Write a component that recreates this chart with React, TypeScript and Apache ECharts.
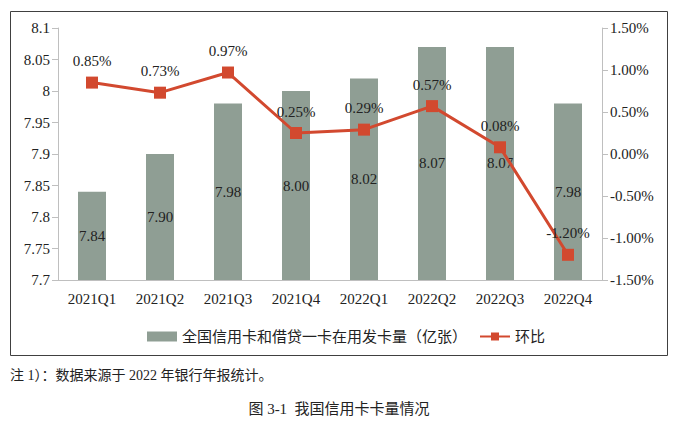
import React, { useEffect, useRef } from "react";
import * as echarts from "echarts";

const categories = ["2021Q1", "2021Q2", "2021Q3", "2021Q4", "2022Q1", "2022Q2", "2022Q3", "2022Q4"];
const cardCounts = [7.84, 7.9, 7.98, 8.0, 8.02, 8.07, 8.07, 7.98];
const qoqPercent = [0.85, 0.73, 0.97, 0.25, 0.29, 0.57, 0.08, -1.2];
const barName = "全国信用卡和借贷一卡在用发卡量（亿张）";
const lineName = "环比";
const noteText = "注 1）：数据来源于 2022 年银行年报统计。";
const captionText = "图 3-1  我国信用卡卡量情况";

const SERIF = '"Liberation Serif", "Noto Sans CJK SC", serif';
const FS = 15;
const AXIS = "#bfbfbf";

export default function App() {
  const ref = useRef<HTMLDivElement>(null);
  useEffect(() => {
    if (!ref.current) return;
    const chart = echarts.init(ref.current, undefined, { renderer: "svg" });
    chart.setOption({
      animation: false,
      backgroundColor: "#ffffff",
      textStyle: { fontFamily: SERIF },
      grid: { left: 58, right: 78, top: 28, bottom: 146 },
      legend: {
        left: 142,
        top: 324,
        itemWidth: 30,
        itemHeight: 10,
        itemGap: 12,
        textStyle: { fontFamily: SERIF, fontSize: 15, color: "#222" },
        data: [{ name: barName, icon: "rect" }, { name: lineName }],
      },
      xAxis: {
        type: "category",
        data: categories,
        axisLine: { onZero: false, lineStyle: { color: AXIS } },
        axisTick: { length: 6, lineStyle: { color: AXIS } },
        axisLabel: { color: "#222", fontSize: FS, margin: 11, fontFamily: SERIF },
        splitLine: { show: false },
      },
      yAxis: [
        {
          type: "value",
          min: 7.7,
          max: 8.1,
          interval: 0.05,
          splitLine: { show: false },
          splitArea: { show: false },
          axisLine: { show: true, lineStyle: { color: AXIS } },
          axisTick: { show: true, length: 6, lineStyle: { color: AXIS } },
          axisLabel: {
            color: "#222",
            fontSize: FS,
            margin: 8,
            fontFamily: SERIF,
            formatter: (v: number) => String(parseFloat(v.toFixed(2))),
          },
        },
        {
          type: "value",
          min: -1.5,
          max: 1.5,
          interval: 0.5,
          splitLine: { show: false },
          splitArea: { show: false },
          axisLine: { show: true, lineStyle: { color: AXIS } },
          axisTick: { show: true, length: 6, lineStyle: { color: AXIS } },
          axisLabel: {
            color: "#222",
            fontSize: FS,
            margin: 8,
            fontFamily: SERIF,
            formatter: (v: number) => v.toFixed(2) + "%",
          },
        },
      ],
      series: [
        {
          name: barName,
          type: "bar",
          data: cardCounts,
          barWidth: 28,
          itemStyle: { color: "#8f9e94" },
          label: {
            show: true,
            position: "inside",
            color: "#222",
            fontSize: FS,
            fontFamily: SERIF,
            formatter: (p: any) => Number(p.value).toFixed(2),
          },
        },
        {
          name: lineName,
          type: "line",
          yAxisIndex: 1,
          data: qoqPercent,
          symbol: "rect",
          symbolSize: 12,
          lineStyle: { color: "#d2492f", width: 3 },
          itemStyle: { color: "#d2492f" },
          label: {
            show: true,
            position: "top",
            distance: 8,
            color: "#222",
            fontSize: FS,
            fontFamily: SERIF,
            formatter: (p: any) => Number(p.value).toFixed(2) + "%",
          },
        },
      ],
      graphic: [
        {
          type: "rect",
          shape: { x: 10.5, y: 11.5, width: 657, height: 344 },
          style: { fill: "none", stroke: "#404040", lineWidth: 1 },
          silent: true,
          z: -1,
        },
        {
          type: "text",
          x: 10,
          y: 368,
          style: { text: noteText, fontSize: 14, fontFamily: SERIF, fill: "#222" },
        },
        {
          type: "text",
          x: 339,
          y: 401,
          style: { text: captionText, fontSize: 15, fontFamily: SERIF, fill: "#222", textAlign: "center" },
        },
      ],
    });
    return () => chart.dispose();
  }, []);
  return (
    <div
      ref={ref}
      style={{ position: "fixed", left: 0, top: 0, width: 680, height: 426, background: "#fff" }}
    />
  );
}
